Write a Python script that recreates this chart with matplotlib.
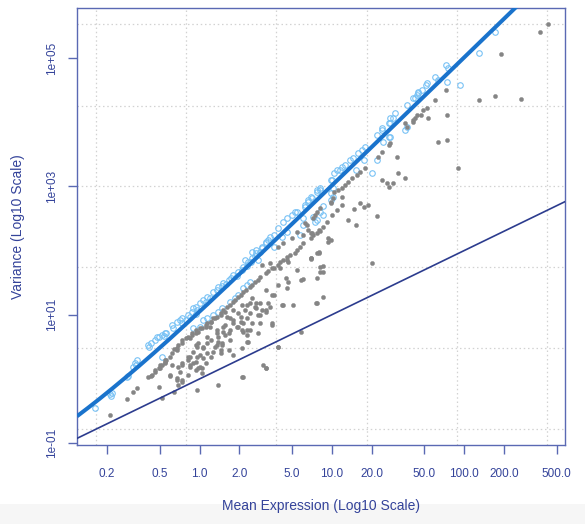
import numpy as np
import matplotlib
matplotlib.use("Agg")
import matplotlib.pyplot as plt
from matplotlib.patches import Rectangle

plt.rcParams['font.family'] = ['Liberation Sans', 'DejaVu Sans']

# ---------------- data (log10 values) ----------------
blue_log_mean = [
    -0.79, -0.68, -0.67, -0.66, -0.55, -0.54, -0.50, -0.49, -0.47, -0.48, -0.39, -0.38, -0.37, -0.34,
    -0.31, -0.28, -0.27, -0.25, -0.21, -0.20, -0.17, -0.15, -0.13, -0.13, -0.10, -0.09, -0.07, -0.06,
    -0.03, -0.02, -0.28, -0.32, -0.26,
    -0.05, 0.00, 0.03, 0.06, 0.10, 0.14, 0.18, 0.22, 0.25, 0.29, 0.33, 0.37, 0.40, 0.43, 0.47, 0.50, 0.52,
    -0.03, 0.05, 0.08, 0.13, 0.17, 0.20, 0.24, 0.28, 0.32, 0.36, 0.39, 0.42, 0.46,
    -0.05, 0.00, 0.03, 0.06, 0.10, 0.14, 0.17, 0.23, 0.27, 0.29, 0.33, 0.36, 0.38,
    0.34, 0.40, 0.43, 0.47, 0.50, 0.53, 0.56, 0.59, 0.63, 0.66, 0.70, 0.72, 0.74, 0.80, 0.82, 0.85,
    0.89, 0.91, 1.00, 1.02, 1.04,
    0.44, 0.56, 0.62, 0.66, 0.78, 0.78, 0.86, 0.89, 0.91, 0.99, 1.01,
    0.80, 0.82, 0.93, 0.93, 0.87, 0.76,
    0.84, 0.89, 0.91, 0.99, 1.06, 1.08, 1.10, 1.14, 1.16, 1.20, 1.23, 1.25, 1.34, 1.38, 1.43, 1.44,
    1.48, 1.57, 1.61, 1.64, 1.65,
    0.99, 1.01, 1.18, 1.24, 1.30, 1.34, 1.39, 1.44, 1.55, 1.57,
    1.38, 1.43, 1.44, 1.46, 1.63, 1.65, 1.68, 1.71, 1.72, 1.78, 1.80, 1.86, 1.87, 1.88, 1.97, 2.11, 2.23,
]
blue_log_var = [
    -0.45, -0.23, -0.26, -0.22, 0.03, 0.05, 0.19, 0.25, 0.29, 0.22, 0.53, 0.50, 0.56, 0.61,
    0.65, 0.68, 0.67, 0.71, 0.84, 0.80, 0.89, 0.92, 0.87, 0.95, 0.92, 0.99, 0.96, 1.04,
    1.01, 1.07, 0.34, 0.65, 0.71,
    1.10, 1.18, 1.23, 1.28, 1.35, 1.43, 1.49, 1.54, 1.62, 1.66, 1.74, 1.82, 1.88, 1.96, 2.04, 2.12, 2.16,
    1.12, 1.20, 1.26, 1.39, 1.45, 1.48, 1.57, 1.60, 1.70, 1.76, 1.82, 1.92, 1.98,
    0.80, 0.81, 0.92, 0.95, 0.99, 1.04, 1.10, 1.20, 1.26, 1.31, 1.42, 1.46, 1.51,
    1.85, 1.98, 2.01, 2.05, 2.13, 2.21, 2.24, 2.35, 2.45, 2.51, 2.55, 2.60, 2.60, 2.68, 2.78, 2.82,
    2.91, 2.94, 3.10, 3.21, 3.26,
    1.85, 2.05, 2.21, 2.29, 2.40, 2.51, 2.52, 2.48, 2.60, 2.78, 2.83,
    2.71, 2.76, 2.69, 2.55, 2.45, 2.24,
    2.83, 2.94, 2.98, 3.10, 3.26, 3.30, 3.33, 3.41, 3.44, 3.52, 3.57, 3.61, 3.80, 3.88, 3.99, 4.07,
    4.14, 4.27, 4.38, 4.42, 4.47,
    2.90, 2.98, 3.26, 3.41, 3.21, 3.41, 3.69, 3.77, 3.88, 3.93,
    3.91, 3.77, 3.99, 4.07, 4.38, 4.46, 4.50, 4.58, 4.61, 4.70, 4.66, 4.89, 4.63, 4.85, 4.58, 5.08, 5.41,
]

gray_log_mean = [
    -0.68, -0.55, -0.50, -0.47, -0.39, -0.37, -0.34, -0.31, -0.28, -0.26, -0.25, -0.21, -0.19, -0.16,
    -0.13, -0.09, -0.06, -0.03, -0.31, -0.28, -0.22, -0.21, -0.17, -0.16, -0.13, -0.09, -0.07, -0.05,
    -0.03, -0.02, -0.01, -0.19,
    -0.36, -0.30, -0.26, -0.22, -0.17, -0.13, -0.07, -0.03, 0.02, 0.06, 0.10, 0.16, 0.21, 0.25, 0.29,
    0.33, 0.38, 0.42, 0.46, 0.50, 0.55, 0.59, 0.63, 0.68, 0.74, 0.78, 0.84, 0.89, 0.93, 0.96, 1.00, 1.04,
    -0.01, 0.05, 0.09, 0.13, 0.18, 0.23, 0.27, 0.31, 0.35, 0.40, 0.44, 0.52, 0.61, 0.66, 0.76, 0.86,
    -0.22, -0.16, -0.13, -0.09, -0.07, -0.03, -0.02, 0.00, 0.03, 0.03, 0.06, 0.06, 0.09, 0.12, 0.13,
    0.14, 0.16, 0.17, 0.18, 0.19, 0.23, 0.23, 0.25, 0.29, 0.31, 0.32, 0.33, 0.36, 0.36, 0.38, 0.40,
    0.43, 0.44, 0.46, 0.50, 0.50, 0.53, 0.55, 0.55, 0.59, 0.61, 0.62, 0.65, 0.66, 0.67, 0.71, 0.72,
    0.74, 0.77, 0.78, 0.84, 0.89, 0.89, 0.91, 0.93, 0.37, 0.36, 0.32, 0.22, 0.25, 0.02, -0.02, 0.50,
    0.48, 0.59, 0.14, 0.33, 0.77, 0.93, 0.88,
    0.47, 0.56, 0.59, 0.63, 0.66, 0.70, 0.74, 0.80, 0.82, 0.84, 0.90, 0.87, 0.89, 0.91, 0.97, 0.99,
    1.01, 1.02, 1.05, 0.84, 0.90, 0.53, 0.67,
    0.99, 1.08, 1.17, 1.21, 1.24, 1.27, 1.34, 1.12, 1.18, 0.86, 0.81, 0.85, 0.91, 0.99, 0.97, 0.90,
    0.84, 0.93, 0.91, 0.89, 0.78, 1.30,
    1.08, 1.10, 1.12, 1.15, 1.19, 1.21, 1.25, 1.08, 1.35, 1.38, 1.44, 1.49, 1.38, 1.42, 1.43, 1.46,
    1.50, 1.55, 1.55, 1.61, 1.63, 1.64,
    1.43, 1.57, 1.61, 1.67, 1.69, 1.72, 1.73, 1.78, 1.86, 1.87, 1.80, 1.87, 1.95, 2.11, 2.23, 2.28,
    2.43, 2.57, 2.63,
    -0.34, -0.30, -0.26, -0.17, -0.10, -0.06, 0.00, 0.05, 0.09, 0.12, 0.16, 0.19, -0.17, -0.15,
    -0.13, -0.13, -0.09, -0.07, -0.05, -0.03, -0.01, 0.00, 0.02, 0.03, 0.05, 0.06, 0.09, 0.10, 0.13,
    0.14, 0.16, 0.17, 0.18, 0.19, 0.22, 0.23, 0.25, 0.28, 0.29, 0.31, 0.32, 0.34, 0.36, 0.38, 0.40,
    0.42, 0.44, 0.46, 0.50, 0.52, 0.55, 0.56, 0.59, 0.63, 0.50, 0.32, 0.21, 0.25, 0.36, 0.43, 0.47,
    0.33, 0.08, 0.13, 0.38, 0.46,
]
gray_log_var = [
    -0.56, -0.31, -0.20, -0.14, 0.03, 0.05, 0.11, 0.17, 0.22, 0.26, 0.29, 0.40, 0.47, 0.53,
    0.61, 0.65, 0.71, 0.76, -0.13, -0.30, 0.05, 0.22, -0.02, -0.10, -0.05, 0.29, 0.22, 0.25,
    0.53, 0.34, 0.17, -0.20,
    0.06, 0.17, 0.25, 0.34, 0.45, 0.56, 0.64, 0.71, 0.80, 0.87, 0.95, 1.03, 1.12, 1.20, 1.28,
    1.35, 1.43, 1.51, 1.59, 1.65, 1.73, 1.77, 1.85, 1.93, 2.01, 2.12, 2.20, 2.27, 2.37, 2.45, 2.55, 2.63,
    0.73, 0.81, 0.89, 0.96, 1.07, 1.15, 1.23, 1.31, 1.39, 1.46, 1.54, 1.68, 1.82, 1.90, 2.05, 2.24,
    0.06, 0.19, 0.25, 0.06, 0.34, 0.14, 0.50, 0.19, 0.50, 0.33, 0.40, 0.65, 0.61, 0.50, 0.71,
    0.57, 0.40, 0.53, 0.81, 0.68, 0.76, 0.61, 0.92, 0.81, 0.96, 1.15, 0.73, 0.76, 0.95, 1.03, 1.26,
    1.10, 0.99, 1.18, 1.07, 1.39, 1.12, 0.84, 1.31, 1.46, 1.73, 1.15, 1.57, 1.42, 1.51, 1.15, 1.96,
    1.70, 1.54, 2.24, 1.88, 1.96, 1.18, 1.74, 1.66, 0.57, 0.68, 0.48, 0.45, 0.37, 0.10, -0.17, 0.17,
    0.22, 0.50, -0.10, 0.03, 0.73, 1.28, 1.18,
    1.77, 1.73, 2.05, 2.12, 1.85, 2.20, 2.29, 2.43, 2.32, 2.27, 2.32, 2.55, 2.60, 2.66, 2.20, 2.74,
    2.82, 2.91, 2.94, 1.88, 1.98, 1.80, 1.82,
    2.76, 2.71, 2.65, 2.74, 2.68, 2.71, 2.54, 2.48, 2.40, 2.51, 2.40, 2.27, 2.31, 2.16, 2.13, 1.96,
    1.87, 1.76, 1.66, 1.57, 1.56, 1.80,
    2.98, 3.02, 3.07, 3.13, 3.18, 3.22, 3.29, 2.83, 3.46, 3.54, 3.68, 3.46, 3.10, 3.05, 2.99, 3.05,
    3.21, 3.13, 3.99, 4.03, 4.07, 4.11,
    3.64, 3.93, 4.00, 4.11, 4.19, 4.22, 4.07, 4.35, 4.50, 4.11, 3.69, 3.72, 3.29, 4.35, 4.41, 5.06,
    4.36, 5.41, 5.53,
    0.14, 0.22, 0.29, 0.48, 0.64, 0.68, 0.80, 0.84, 0.89, 0.95, 0.99, 1.04, 0.01, 0.11,
    -0.02, 0.22, 0.34, 0.19, 0.42, 0.26, 0.56, 0.37, 0.17, 0.48, 0.25, 0.56, 0.34, 0.42, 0.53,
    0.65, 0.45, 0.56, 0.73, 0.84, 0.71, 0.95, 0.87, 0.81, 1.03, 0.89, 0.76, 1.07, 0.57, 1.18, 0.87,
    1.12, 0.71, 0.99, 1.04, 1.18, 0.87, 1.31, 0.50, 1.15, 0.17, 0.03, 0.96, 1.07, 1.15, 1.18, 1.07,
    0.87, 0.81, 0.76, 0.76, 0.87,
]

x_ticks = [0.2, 0.5, 1.0, 2.0, 5.0, 10.0, 20.0, 50.0, 100.0, 200.0, 500.0]
x_tick_labels = ['0.2', '0.5', '1.0', '2.0', '5.0', '10.0', '20.0', '50.0', '100.0', '200.0', '500.0']
y_ticks = [1e-1, 1e1, 1e3, 1e5]
y_tick_labels = ['1e-01', '1e+01', '1e+03', '1e+05']
grid_x = [0.165, 0.791, 3.78, 18.45, 88.3, 423.0]
grid_y = [0.166, 3.02, 55.0, 1023.0, 17800.0, 339000.0]
dispersion = 10.2          # fitted negative-binomial dispersion (thick line)
x_range = (0.1186, 578.0)
y_range = (0.0935, 601000.0)

# ---------------- styling ----------------
axis_col = '#5A69B3'
text_col = '#34439A'
blue_line_col = '#1A73CC'
navy_col = '#2C3C8E'
circle_col = '#79C2F5'
gray_col = '#858585'

fig = plt.figure(figsize=(5.85, 5.24), dpi=100)
fig.patch.set_facecolor('white')
fig.patches.append(Rectangle((0, 0), 1, 20 / 524, transform=fig.transFigure,
                             facecolor='#F6F6F6', edgecolor='none', zorder=-10))
ax = fig.add_axes([77 / 585, 79 / 524, 488 / 585, 437 / 524])
ax.set_xscale('log')
ax.set_yscale('log')
ax.set_xlim(*x_range)
ax.set_ylim(*y_range)

for gx in grid_x:
    ax.axvline(gx, color='#D2D2D2', lw=0.9, ls=(0, (1.2, 2.2)), zorder=0)
for gy in grid_y:
    ax.axhline(gy, color='#D2D2D2', lw=0.9, ls=(0, (1.2, 2.2)), zorder=0)

bm = np.power(10.0, blue_log_mean)
bv = np.power(10.0, blue_log_var)
gm = np.power(10.0, gray_log_mean)
gv = np.power(10.0, gray_log_var)

ax.plot(bm, bv, 'o', ms=4.0, mfc='none', mec=circle_col, mew=0.8, zorder=2)
ax.plot(gm, gv, 'o', ms=3.0, mfc=gray_col, mec=gray_col, mew=0.3, zorder=3)

mu = np.logspace(np.log10(x_range[0]), np.log10(x_range[1]), 300)
ax.plot(mu, mu, color=navy_col, lw=1.2, zorder=4)
ax.plot(mu, mu + dispersion * mu ** 2, color=blue_line_col, lw=2.9, zorder=5,
        solid_capstyle='butt')

for s in ax.spines.values():
    s.set_color(axis_col)
    s.set_linewidth(1.0)

ax.set_xticks(x_ticks)
ax.set_xticklabels(x_tick_labels)
ax.set_yticks(y_ticks)
ax.set_yticklabels(y_tick_labels, rotation=90, va='center')
ax.minorticks_off()
ax.tick_params(axis='x', length=6.5, width=1.0, color=axis_col, labelcolor=text_col,
               labelsize=8.5, pad=10)
ax.tick_params(axis='y', length=6.5, width=1.0, color=axis_col, labelcolor=text_col,
               labelsize=8.5, pad=7)

ax.set_xlabel('Mean Expression (Log10 Scale)', color=text_col, fontsize=10, labelpad=14)
ax.set_ylabel('Variance (Log10 Scale)', color=text_col, fontsize=10, labelpad=15)

fig.savefig('out.png', dpi=100)
